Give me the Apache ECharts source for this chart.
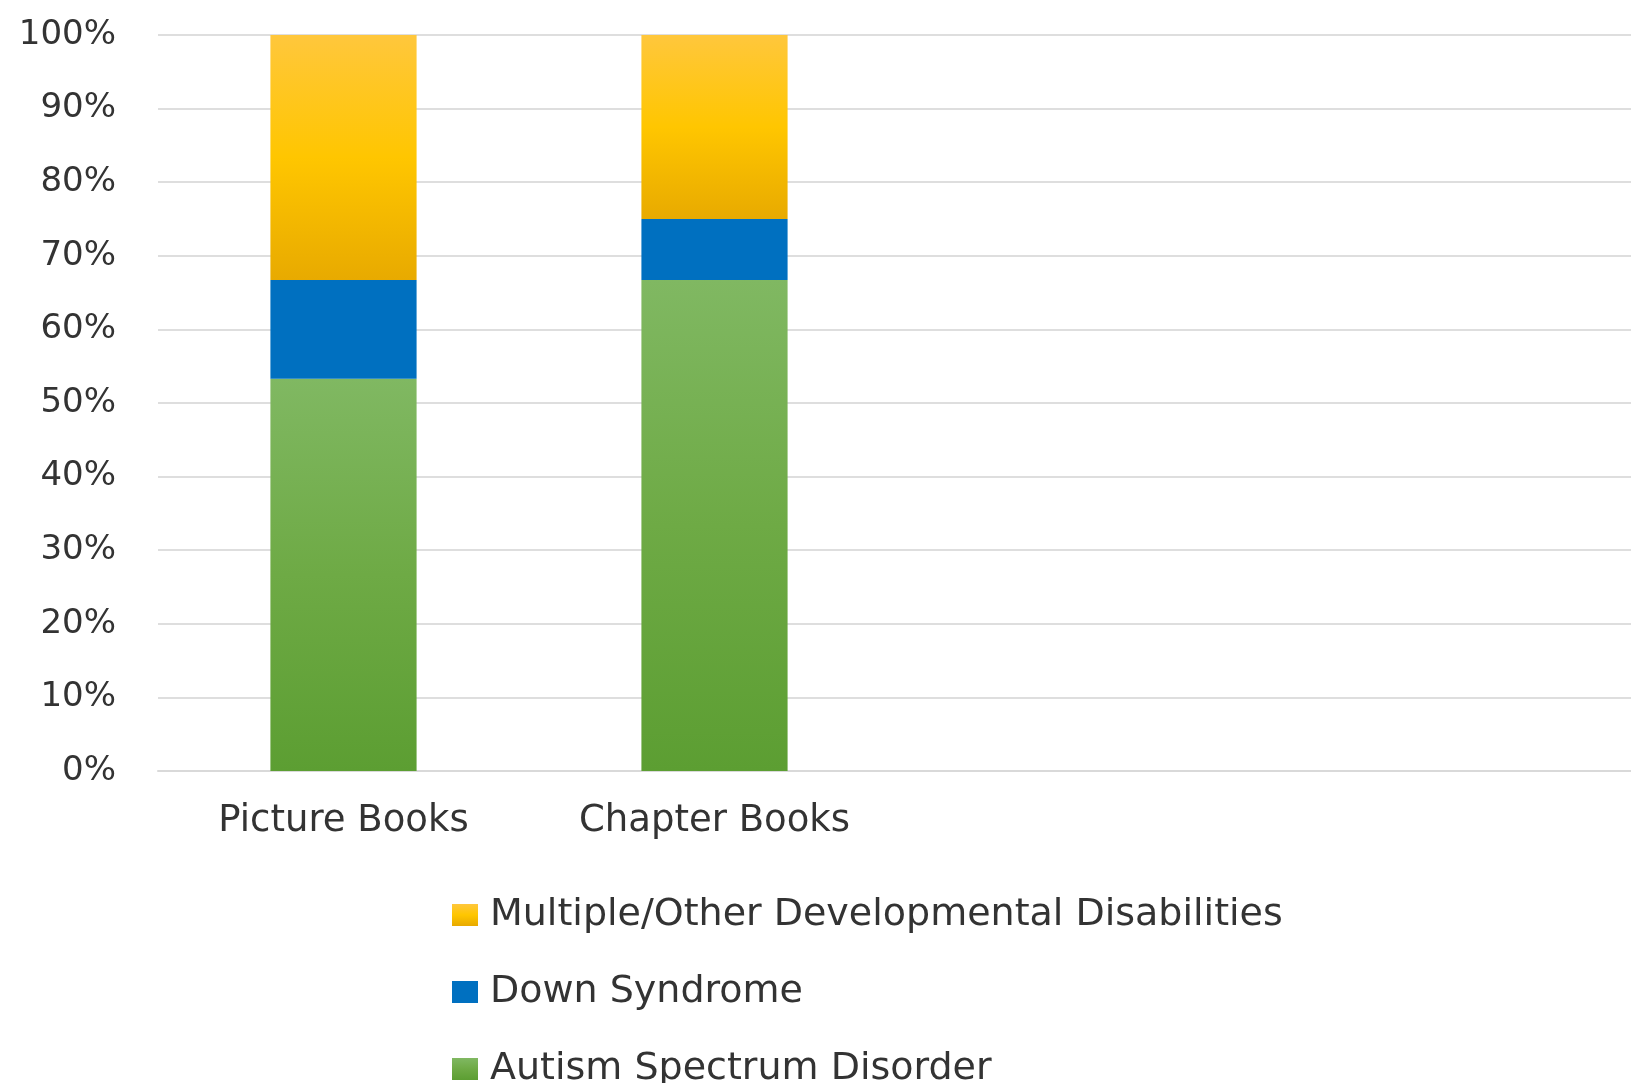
<!DOCTYPE html>
<html>
<head>
<meta charset="utf-8">
<script src="https://cdn.jsdelivr.net/npm/echarts@6/dist/echarts.min.js"></script>
<style>
html,body{margin:0;padding:0;background:#fff;overflow:hidden;width:1631px;height:1083px;}
#chart{width:2013px;height:1083px;}
</style>
</head>
<body>
<div id="chart"></div>
<script>
const categories = ['Picture Books', 'Chapter Books', '', '', ''];
const autism = [53.3, 66.7, null, null, null];
const down = [13.4, 8.3, null, null, null];
const multiple = [33.3, 25.0, null, null, null];
const yTicks = [0, 10, 20, 30, 40, 50, 60, 70, 80, 90, 100];
const seriesNames = ['Autism Spectrum Disorder', 'Down Syndrome', 'Multiple/Other Developmental Disabilities'];

const FONT = 'DejaVu Sans';
const chart = echarts.init(document.getElementById('chart'));

function grad(top, mid, bottom) {
  return new echarts.graphic.LinearGradient(0, 0, 0, 1, [
    {offset: 0, color: top}, {offset: 0.5, color: mid}, {offset: 1, color: bottom}
  ]);
}

chart.setOption({
  animation: false,
  backgroundColor: '#fff',
  textStyle: {fontFamily: FONT},
  grid: {left: 158, right: 0, top: 35, bottom: 312, containLabel: false},
  xAxis: {
    type: 'category',
    data: categories,
    axisLine: {show: true, lineStyle: {color: '#d9d9d9', width: 2}},
    axisTick: {show: false},
    axisLabel: {color: '#333', fontSize: 37, fontFamily: FONT, margin: 32, interval: 0}
  },
  yAxis: {
    type: 'value',
    min: yTicks[0],
    max: yTicks[yTicks.length - 1],
    interval: 10,
    axisLine: {show: false},
    axisTick: {show: false},
    splitLine: {lineStyle: {color: '#dedede', width: 2}},
    axisLabel: {color: '#333', fontSize: 34, fontFamily: FONT, margin: 42, formatter: v => v + '%'}
  },
  legend: {
    orient: 'vertical',
    left: 452,
    top: 896,
    height: 220,
    padding: 0,
    itemWidth: 26,
    itemHeight: 22,
    itemGap: 39,
    icon: 'rect',
    data: [seriesNames[2], seriesNames[1], seriesNames[0]],
    textStyle: {color: '#333', fontSize: 38, fontFamily: FONT, lineHeight: 38, padding: [0, 0, 0, 7]}
  },
  series: [
    {
      name: seriesNames[0], type: 'bar', stack: 'total', data: autism, barWidth: '39.4%',
      itemStyle: {color: grad('#80b862', '#6eaa45', '#5c9e32')}
    },
    {
      name: seriesNames[1], type: 'bar', stack: 'total', data: down, barWidth: '39.4%',
      itemStyle: {color: '#0070c0'}
    },
    {
      name: seriesNames[2], type: 'bar', stack: 'total', data: multiple, barWidth: '39.4%',
      itemStyle: {color: grad('#ffc73c', '#ffc600', '#e8aa00')}
    }
  ]
});
</script>
</body>
</html>
